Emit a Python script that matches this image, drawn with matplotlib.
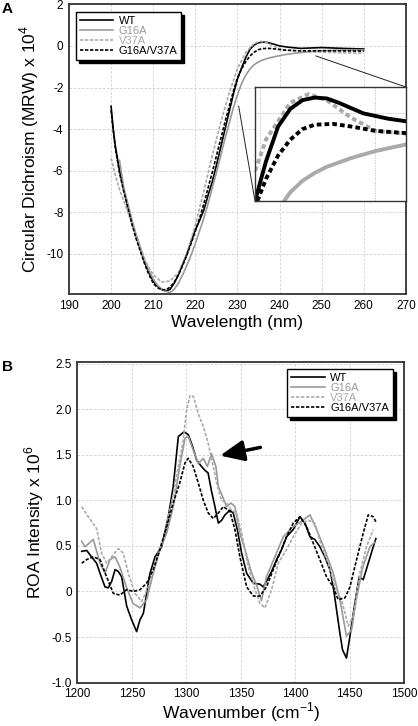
import numpy as np
import matplotlib
matplotlib.use("Agg")
import matplotlib.pyplot as plt
from matplotlib.patches import ConnectionPatch
from matplotlib.ticker import FuncFormatter

plt.rcParams["font.family"] = ["Liberation Sans", "DejaVu Sans"]
plt.rcParams["mathtext.fontset"] = "custom"
plt.rcParams["mathtext.rm"] = "Liberation Sans"
plt.rcParams["axes.unicode_minus"] = False

# ---- panel A: CD spectra ----
SERIES = ["WT", "G16A", "V37A", "G16A/V37A"]

wt_nm = [200, 200.5, 201, 202, 203, 204, 205, 206, 207, 208, 209, 210, 211, 212, 213, 214, 215, 216,
         217, 218, 219, 220, 221, 222, 223, 224, 225, 226, 227, 228, 229, 230, 231, 232, 233, 234,
         235, 236, 237, 238, 240, 242, 245, 250, 255, 260]
wt_cd = [-2.9, -4.0, -4.8, -6.0, -6.9, -7.7, -8.5, -9.2, -9.8, -10.4, -10.9, -11.3, -11.55, -11.7,
         -11.78, -11.7, -11.4, -11.0, -10.5, -10.0, -9.4, -8.85, -8.4, -7.9, -7.2, -6.55, -5.75, -4.9,
         -4.05, -3.2, -2.35, -1.6, -1.05, -0.55, -0.15, 0.05, 0.15, 0.18, 0.17, 0.12, 0.0, -0.06,
         -0.12, -0.08, -0.12, -0.15]

g16a_nm = [202, 203, 204, 205, 206, 207, 208, 209, 210, 211, 212, 213, 214, 215, 216, 217, 218, 219,
           220, 221, 222, 223, 224, 225, 226, 227, 228, 229, 230, 231, 232, 233, 234, 235, 236, 237,
           238, 239, 240, 241, 242, 243, 244, 246, 248, 250, 255, 260]
g16a_cd = [-5.5, -6.8, -7.6, -8.4, -9.1, -9.7, -10.3, -10.8, -11.2, -11.5, -11.7, -11.8, -11.85, -11.7,
           -11.4, -11.0, -10.55, -10.05, -9.5, -8.9, -8.3, -7.6, -6.85, -6.1, -5.3, -4.5, -3.75, -3.0,
           -2.35, -1.8, -1.4, -1.1, -0.9, -0.77, -0.68, -0.61, -0.56, -0.51, -0.47, -0.43, -0.4, -0.37,
           -0.34, -0.3, -0.27, -0.24, -0.2, -0.2]

v37a_nm = [200, 201, 202, 204, 206, 208, 210, 212, 214, 216, 218, 220, 222, 224, 226, 228, 230, 232,
           234, 235.5, 237, 239, 241, 245, 250, 255, 260]
v37a_cd = [-5.4, -6.2, -6.9, -8.0, -9.2, -10.3, -11.0, -11.35, -11.3, -10.9, -10.0, -8.6, -7.0, -5.3,
           -3.7, -2.3, -1.1, -0.3, 0.12, 0.22, 0.15, -0.05, -0.2, -0.25, -0.3, -0.33, -0.35]

dm_nm = [200, 201, 202, 203, 204, 205, 206, 207, 208, 209, 210, 211, 212, 213, 214, 215, 216, 217,
         218, 219, 220, 221, 222, 223, 224, 225, 226, 227, 228, 229, 230, 231, 232, 233, 234, 235,
         236, 237.5, 239, 241, 245, 250, 255, 260]
dm_cd = [-3.1, -4.9, -6.1, -7.0, -7.8, -8.6, -9.3, -9.9, -10.5, -11.0, -11.4, -11.62, -11.72, -11.72,
         -11.6, -11.35, -11.0, -10.55, -10.05, -9.5, -8.9, -8.3, -7.6, -6.85, -6.1, -5.3, -4.5, -3.7,
         -2.95, -2.2, -1.55, -1.1, -0.75, -0.48, -0.3, -0.18, -0.13, -0.12, -0.15, -0.2, -0.24,
         -0.23, -0.24, -0.25]

# region of panel A that the inset magnifies
ZOOM_LO = (230.3, -2.9)
ZOOM_HI = (248.6, -0.48)

# ---- panel B: ROA spectra ----
wt_wn = [1204, 1208.6, 1213, 1217.7, 1220.8, 1225.4, 1228.4, 1231.5, 1234.6, 1237.6, 1240.7, 1245.3,
         1249.8, 1254.4, 1257.5, 1260.6, 1266.7, 1271.3, 1277.4, 1283.5, 1288, 1292.7, 1297.9, 1301.8,
         1305.8, 1309.5, 1314, 1317, 1320, 1323, 1326.3, 1329.4, 1332.4, 1335.5, 1340, 1343.1, 1346.8,
         1350.8, 1355.4, 1361.5, 1367.6, 1370.6, 1373.6, 1378.3, 1382.9, 1387.5, 1392, 1398.2, 1404.3,
         1408.9, 1413.5, 1418, 1422.6, 1427.2, 1431.8, 1434.9, 1437.9, 1441, 1443.4, 1447, 1450.2,
         1454.7, 1458.7, 1462.4, 1467, 1471.6, 1474]
wt_roa = [0.44, 0.45, 0.38, 0.31, 0.2, 0.05, 0.04, 0.11, 0.24, 0.22, 0.16, -0.16, -0.31, -0.44, -0.31,
          -0.24, 0.2, 0.38, 0.49, 0.82, 1.15, 1.7, 1.75, 1.72, 1.59, 1.44, 1.37, 1.33, 1.3, 1.11, 0.93,
          0.75, 0.78, 0.84, 0.89, 0.86, 0.68, 0.42, 0.2, 0.09, 0.08, 0.05, 0.11, 0.22, 0.35, 0.46, 0.6,
          0.68, 0.82, 0.75, 0.6, 0.57, 0.49, 0.38, 0.24, 0.05, -0.2, -0.46, -0.64, -0.73, -0.49, -0.13,
          0.16, 0.13, 0.31, 0.49, 0.58]

g16a_wn = [1204, 1207, 1214.7, 1220.8, 1225.4, 1230, 1234.6, 1239, 1245, 1251, 1257.5, 1263.6, 1269.7,
           1275.8, 1282, 1288, 1294, 1298.8, 1301.8, 1306.4, 1311, 1315.6, 1319.3, 1323.2, 1327.2,
           1329.4, 1333.3, 1337, 1341, 1344.6, 1349.2, 1353.8, 1360, 1364.5, 1369, 1373.6, 1381.3, 1389,
           1398, 1405.8, 1413.5, 1419.6, 1427, 1434.9, 1441, 1447, 1451.7, 1456, 1462, 1468.5, 1473]
g16a_roa = [0.55, 0.49, 0.57, 0.31, 0.2, 0.35, 0.38, 0.27, 0.05, -0.13, -0.18, -0.09, 0.2, 0.46, 0.64,
            0.93, 1.37, 1.68, 1.7, 1.55, 1.4, 1.46, 1.37, 1.51, 1.37, 1.15, 1.04, 0.93, 0.97, 0.93,
            0.64, 0.46, 0.2, 0.07, -0.1, 0.16, 0.38, 0.6, 0.71, 0.77, 0.84, 0.68, 0.46, 0.2, -0.09,
            -0.49, -0.42, -0.09, 0.27, 0.49, 0.54]

v37a_wn = [1204, 1210, 1217.7, 1222.3, 1226.9, 1231.5, 1237.6, 1242.2, 1246.8, 1252.9, 1259, 1265.1,
           1271.3, 1278.9, 1286.5, 1292.7, 1297.2, 1300.3, 1303.4, 1306.4, 1311, 1315.6, 1320.2, 1324.8,
           1327.8, 1332.4, 1337, 1341.6, 1346.2, 1350.8, 1356.9, 1363.1, 1367.6, 1372.2, 1378.3, 1384.4,
           1392, 1398.2, 1405.8, 1411.9, 1418, 1424.2, 1430.3, 1436.4, 1442.5, 1448.6, 1453.2, 1459.3,
           1465.4, 1471.6]
v37a_roa = [0.93, 0.82, 0.69, 0.42, 0.31, 0.38, 0.47, 0.42, 0.2, -0.02, -0.11, 0.05, 0.31, 0.6, 0.97,
            1.37, 1.66, 1.99, 2.15, 2.14, 1.95, 1.81, 1.62, 1.37, 1.19, 1.0, 0.97, 0.89, 0.86, 0.64,
            0.27, 0.02, -0.13, -0.18, 0.02, 0.31, 0.46, 0.6, 0.75, 0.78, 0.75, 0.49, 0.31, 0.05, -0.09,
            -0.38, -0.27, 0.2, 0.49, 0.68]

dm_wn = [1204, 1208.6, 1214.7, 1220.8, 1226.9, 1233, 1239, 1245.3, 1251.4, 1257.5, 1263.6, 1269.7,
         1275.8, 1282, 1288, 1294, 1298.8, 1301.8, 1306.4, 1311, 1315.6, 1320.2, 1324.8, 1329.4, 1334,
         1340, 1344.6, 1349.2, 1355.4, 1361.5, 1367.6, 1373.6, 1379.8, 1385.9, 1392, 1398.2, 1404.3,
         1410.4, 1416.5, 1422.6, 1428.7, 1434.9, 1439.4, 1445.6, 1450.2, 1456.3, 1462.4, 1467,
         1471.6, 1474.6]
dm_roa = [0.31, 0.35, 0.38, 0.35, 0.16, -0.02, -0.04, 0.02, 0.0, 0.02, 0.09, 0.24, 0.46, 0.71, 0.97,
          1.19, 1.41, 1.46, 1.37, 1.19, 1.0, 0.86, 0.8, 0.86, 0.93, 0.88, 0.68, 0.38, 0.05, -0.05,
          -0.05, 0.05, 0.24, 0.42, 0.6, 0.75, 0.82, 0.71, 0.53, 0.35, 0.16, 0.05, -0.09, -0.07, 0.05,
          0.35, 0.64, 0.84, 0.82, 0.75]

# arrow pointing at the G16A shoulder
ARROW_HEAD = (1331, 1.49)
ARROW_TAIL = (1368, 1.58)

STYLES = {
    "WT": dict(color="black", ls="-"),
    "G16A": dict(color="#999999", ls="-"),
    "V37A": dict(color="#aaaaaa", ls=(0, (2, 1))),
    "G16A/V37A": dict(color="black", ls=(0, (2, 1))),
}
TEXT_COLORS = {"WT": "black", "G16A": "#999999", "V37A": "#aaaaaa", "G16A/V37A": "black"}
INSET_STYLES = {
    "WT": dict(color="black", ls="-"),
    "G16A": dict(color="#aaaaaa", ls="-"),
    "V37A": dict(color="#aaaaaa", ls=(0, (1.2, 0.8))),
    "G16A/V37A": dict(color="black", ls=(0, (1.2, 0.8))),
}

cd_data = {"WT": (wt_nm, wt_cd), "G16A": (g16a_nm, g16a_cd),
           "V37A": (v37a_nm, v37a_cd), "G16A/V37A": (dm_nm, dm_cd)}
roa_data = {"WT": (wt_wn, wt_roa), "G16A": (g16a_wn, g16a_roa),
            "V37A": (v37a_wn, v37a_roa), "G16A/V37A": (dm_wn, dm_roa)}


def style_axes(ax):
    ax.grid(True, color="#cfcfcf", ls=(0, (3, 2)), lw=0.6)
    ax.set_axisbelow(True)
    ax.tick_params(length=0, labelsize=8.5, pad=4)
    for sp in ax.spines.values():
        sp.set_color("#333333")
        sp.set_linewidth(1.3)


def add_legend(ax, **kw):
    leg = ax.legend(fontsize=8, frameon=True, fancybox=False, handlelength=3.0,
                    labelspacing=0.0, borderpad=0.35, handletextpad=0.5, borderaxespad=0,
                    shadow={"color": "black", "alpha": 1.0}, **kw)
    leg.get_frame().set_edgecolor("black")
    leg.get_frame().set_linewidth(1.0)
    for txt in leg.get_texts():
        txt.set_color(TEXT_COLORS[txt.get_text()])
    return leg


fig = plt.figure(figsize=(4.18, 7.26), dpi=100)

# panel A
ax1 = fig.add_axes([0.165, 0.5946, 0.806, 0.3995])
for name in SERIES:
    x, y = cd_data[name]
    ax1.plot(x, y, lw=1.2, label=name, **STYLES[name])
ax1.set_xlim(190, 270)
ax1.set_ylim(-11.94, 2)
ax1.set_xticks(np.arange(190, 271, 10))
ax1.set_yticks(np.arange(-10, 3, 2))
style_axes(ax1)
ax1.set_xlabel("Wavelength (nm)", fontsize=12.5, labelpad=2)
ax1.set_ylabel(r"Circular Dichroism (MRW) x 10$^{\mathregular{4}}$", fontsize=12.5, labelpad=4)
add_legend(ax1, loc="upper left", bbox_to_anchor=(0.021, 0.972))

# inset of panel A
axin = fig.add_axes([0.610, 0.7231, 0.361, 0.157])
for name in ["V37A", "WT", "G16A/V37A", "G16A"]:
    x, y = cd_data[name]
    axin.plot(x, y, lw=2.8, **INSET_STYLES[name])
axin.set_xlim(231.1, 243.5)
axin.set_ylim(-1.0, 0.3)
axin.set_xticks([231.5, 241])
axin.set_yticks([0])
axin.grid(True, color="#bbbbbb", ls=(0, (1.5, 1.5)), lw=0.6)
axin.tick_params(length=0, labelbottom=False, labelleft=False)
for sp in axin.spines.values():
    sp.set_color("#333333")
    sp.set_linewidth(1.0)

for src, dst in [(ZOOM_LO, (0, 0)), (ZOOM_HI, (1, 1))]:
    con = ConnectionPatch(xyA=src, coordsA=ax1.transData, xyB=dst, coordsB=axin.transAxes,
                          color="#222222", lw=0.7)
    fig.add_artist(con)

# panel B
ax2 = fig.add_axes([0.185, 0.0597, 0.782, 0.4421])
for name in SERIES:
    x, y = roa_data[name]
    ax2.plot(x, y, lw=1.2, label=name, **STYLES[name])
ax2.set_xlim(1200, 1500)
ax2.set_ylim(-1.0, 2.52)
ax2.set_xticks(np.arange(1200, 1501, 50))
ax2.set_yticks(np.arange(-1.0, 2.51, 0.5))
ax2.yaxis.set_major_formatter(FuncFormatter(lambda v, p: "0" if abs(v) < 1e-9 else f"{v:.1f}"))
style_axes(ax2)
ax2.set_xlabel(r"Wavenumber (cm$^{\mathregular{-1}}$)", fontsize=12.5, labelpad=0)
ax2.set_ylabel(r"ROA Intensity x 10$^{\mathregular{6}}$", fontsize=12.5, labelpad=4)
add_legend(ax2, loc="upper right", bbox_to_anchor=(0.965, 0.977))
ax2.annotate("", xy=ARROW_HEAD, xytext=ARROW_TAIL,
             arrowprops=dict(arrowstyle="-|>,head_length=0.8,head_width=0.35", lw=2.5,
                             color="black", mutation_scale=18, shrinkA=0, shrinkB=0))

fig.text(0.005, 0.988, "A", fontsize=11, fontweight="bold", va="center")
fig.text(0.005, 0.495, "B", fontsize=11, fontweight="bold", va="center")

fig.savefig("out.png", dpi=100)
